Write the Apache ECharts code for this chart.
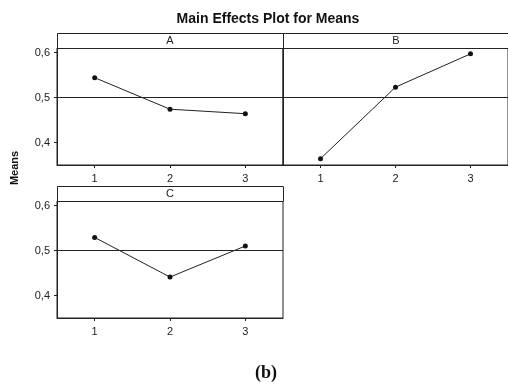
<!DOCTYPE html>
<html>
<head>
<meta charset="utf-8">
<script src="https://cdn.jsdelivr.net/npm/echarts@6/dist/echarts.min.js"></script>
<style>
html,body{margin:0;padding:0;background:#fff;}
#c{width:508px;height:385px;}
</style>
</head>
<body>
<div id="c"></div>
<script>
// ---- data ----
const levels = ['1', '2', '3'];
const panelNames = ['A', 'B', 'C'];
const meansA = [0.544, 0.474, 0.464];
const meansB = [0.364, 0.523, 0.597];
const meansC = [0.529, 0.441, 0.510];
const grandMean = 0.496;
const yTicks = [0.4, 0.5, 0.6];
const yMin = 0.35, yMax = 0.61;

// ---- layout ----
const panels = [
  {name: panelNames[0], data: meansA, left: 57, top: 48, showY: true},
  {name: panelNames[1], data: meansB, left: 283, top: 48, showY: false},
  {name: panelNames[2], data: meansC, left: 57, top: 201, showY: true}
];
const W = 226, H = 117, STRIP = 15;
const font = 'Liberation Sans, Arial, sans-serif';

const grids = [], xAxes = [], yAxes = [], series = [], graphics = [];
panels.forEach((p, i) => {
  grids.push({left: p.left, top: p.top, width: W, height: H, show: true,
    borderColor: '#222', borderWidth: 1, backgroundColor: 'transparent', containLabel: false});
  xAxes.push({type: 'category', gridIndex: i, data: levels, boundaryGap: true,
    axisLine: {show: true, lineStyle: {color: '#222', width: 1}},
    axisTick: {show: true, alignWithLabel: true, length: 3, lineStyle: {color: '#222'}},
    axisLabel: {color: '#222', fontSize: 11, fontFamily: font, margin: 8},
    splitLine: {show: false}});
  yAxes.push({type: 'value', gridIndex: i, min: yMin, max: yMax,
    axisLine: {show: true, lineStyle: {color: '#222', width: 1}},
    axisTick: {show: p.showY, length: 3, customValues: yTicks, lineStyle: {color: '#222'}},
    axisLabel: {show: p.showY, customValues: yTicks, color: '#222', fontSize: 11, fontFamily: font, margin: 7,
      formatter: v => v.toFixed(1).replace('.', ',')},
    splitLine: {show: false}});
  series.push({type: 'line', xAxisIndex: i, yAxisIndex: i, data: p.data,
    symbol: 'circle', symbolSize: 5, itemStyle: {color: '#111'},
    lineStyle: {color: '#222', width: 1}, animation: false,
    markLine: {silent: true, symbol: 'none', label: {show: false},
      lineStyle: {color: '#222', width: 1, type: 'solid'},
      data: [{yAxis: grandMean}]}});
  graphics.push({type: 'rect', left: p.left, top: p.top - STRIP,
    shape: {width: W, height: STRIP},
    style: {fill: '#fff', stroke: '#222', lineWidth: 1}});
  graphics.push({type: 'text', x: p.left + W / 2, y: p.top - STRIP / 2,
    style: {text: p.name, fill: '#222', font: '11px ' + font, align: 'center', verticalAlign: 'middle'}});
});

graphics.push({type: 'text', x: 15, y: 168, rotation: Math.PI / 2,
  style: {text: 'Means', fill: '#111', font: 'bold 11px ' + font, align: 'center', verticalAlign: 'middle'}});
graphics.push({type: 'text', x: 266, y: 373,
  style: {text: '(b)', fill: '#111', font: 'bold 18px Liberation Serif, serif', align: 'center', verticalAlign: 'middle'}});

const chart = echarts.init(document.getElementById('c'), null, {renderer: 'canvas'});
chart.setOption({
  animation: false,
  backgroundColor: '#fff',
  title: {text: 'Main Effects Plot for Means', left: 263, top: 7, textAlign: 'center',
    textStyle: {fontSize: 14, fontWeight: 'bold', color: '#111', fontFamily: font}},
  grid: grids, xAxis: xAxes, yAxis: yAxes, series: series,
  graphic: graphics
});
</script>
</body>
</html>
